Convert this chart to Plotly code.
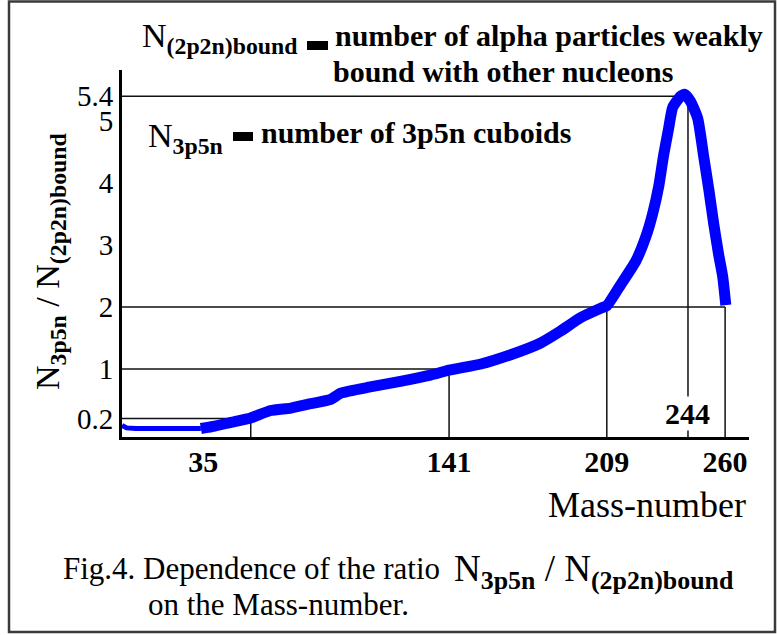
import plotly.graph_objects as go

# ---------------- data ----------------
mass_flat = [0, 2, 6, 15, 25, 34]
ratio_flat = [0.09, 0.05, 0.04, 0.04, 0.04, 0.04]

mass = [34, 40, 47, 55.5, 64, 72.8, 81.4, 90, 94.3, 107, 120, 133, 141,
        154.7, 167.6, 180.5, 189, 197.8, 206.4, 209, 215, 221.5, 225.8,
        228.8, 231.4, 233.5, 235.5, 237.4, 240.8, 242.6, 245.2, 248.2,
        250.8, 253, 255.1, 257.2, 259, 260.3]
ratio = [0.04, 0.08, 0.14, 0.21, 0.33, 0.37, 0.44, 0.51, 0.61, 0.71, 0.80,
         0.90, 0.98, 1.08, 1.23, 1.42, 1.61, 1.83, 1.98, 2.02, 2.36, 2.74,
         3.13, 3.51, 3.95, 4.45, 4.85, 5.22, 5.40, 5.43, 5.31, 5.04, 4.42,
         3.89, 3.34, 2.85, 2.48, 2.03]

# reference levels: (mass where the level meets the curve, ratio level)
ref_mass = [55.5, 141, 209, 260]
ref_ratio = [0.2, 1, 2, 2]
peak_mass = 244
peak_ratio = 5.4
peak_left = 240

y_ticks = [0.2, 1, 2, 3, 4, 5, 5.4]
y_tick_text = ["0.2", "1", "2", "3", "4", "5", "5.4"]
x_ticks = [35, 141, 209, 260]
x_tick_text = ["<b>35</b>", "<b>141</b>", "<b>209</b>", "<b>260</b>"]

X_RANGE = [0, 270.3]
Y_RANGE = [-0.097, 5.823]

# ---------------- layout geometry ----------------
W, H = 777, 635
L, R, T, B = 122, 28, 70, 198
PW, PH = W - L - R, H - T - B


def px(x):
    return (x - L) / PW


def py(y):
    return (H - B - y) / PH


SERIF = "Liberation Serif"
fig = go.Figure()

ymin = Y_RANGE[0]
line_style = dict(color="#111111", width=1.5)

# horizontal reference lines
for m, r in zip(ref_mass, ref_ratio):
    if r == 2 and m != 260:
        continue
    fig.add_trace(go.Scatter(x=[0, m], y=[r, r], mode="lines", line=line_style,
                             hoverinfo="skip", showlegend=False))
fig.add_trace(go.Scatter(x=[0, peak_left], y=[peak_ratio, peak_ratio], mode="lines",
                         line=line_style, hoverinfo="skip", showlegend=False))
# vertical reference lines
for m, r in zip(ref_mass, ref_ratio):
    fig.add_trace(go.Scatter(x=[m, m], y=[r, ymin], mode="lines", line=line_style,
                             hoverinfo="skip", showlegend=False))
fig.add_trace(go.Scatter(x=[peak_mass, peak_mass], y=[peak_ratio, ymin], mode="lines",
                         line=line_style, hoverinfo="skip", showlegend=False))

# the curve
fig.add_trace(go.Scatter(x=mass_flat, y=ratio_flat, mode="lines",
                         line=dict(color="#0000FF", width=5), showlegend=False))
fig.add_trace(go.Scatter(x=mass, y=ratio, mode="lines",
                         line=dict(color="#0000FF", width=11, shape="spline", smoothing=0.5),
                         showlegend=False))

ann = []
# 244 label
ann.append(dict(x=peak_mass, y=0.29, xref="x", yref="y", text="<b>244</b>",
                showarrow=False, bgcolor="white", borderpad=0,
                font=dict(family=SERIF, size=30, color="black")))

# top legend text
ann.append(dict(x=px(140), y=py(38), xref="paper", yref="paper", xanchor="left", yanchor="middle",
                text="N<sub><b>(2p2n)bound</b></sub>", showarrow=False,
                font=dict(family=SERIF, size=34, color="black")))
ann.append(dict(x=px(333), y=py(35), xref="paper", yref="paper", xanchor="left", yanchor="middle",
                text="<b>number of alpha particles weakly</b>", showarrow=False,
                font=dict(family=SERIF, size=30, color="black")))
ann.append(dict(x=px(331), y=py(72), xref="paper", yref="paper", xanchor="left", yanchor="middle",
                text="<b>bound with other nucleons</b>", showarrow=False,
                font=dict(family=SERIF, size=30, color="black")))
ann.append(dict(x=px(146), y=py(138), xref="paper", yref="paper", xanchor="left", yanchor="middle",
                text="N<sub><b>3p5n</b></sub>", showarrow=False,
                font=dict(family=SERIF, size=34, color="black")))
ann.append(dict(x=px(259), y=py(132), xref="paper", yref="paper", xanchor="left", yanchor="middle",
                text="<b>number of 3p5n cuboids</b>", showarrow=False,
                font=dict(family=SERIF, size=30, color="black")))

# y-axis title
ann.append(dict(x=px(50), y=py(262), xref="paper", yref="paper", xanchor="center", yanchor="middle",
                text="N<sub><b>3p5n</b></sub> / N<sub><b>(2p2n)bound</b></sub>", textangle=-90,
                showarrow=False, font=dict(family=SERIF, size=34, color="black")))
# x-axis title
ann.append(dict(x=px(748), y=py(505), xref="paper", yref="paper", xanchor="right", yanchor="middle",
                text="Mass-number", showarrow=False,
                font=dict(family=SERIF, size=36, color="black")))
# caption
ann.append(dict(x=px(61), y=py(568), xref="paper", yref="paper", xanchor="left", yanchor="middle",
                text="Fig.4. Dependence of the ratio", showarrow=False,
                font=dict(family=SERIF, size=31, color="black")))
ann.append(dict(x=px(452), y=py(571), xref="paper", yref="paper", xanchor="left", yanchor="middle",
                text="N<sub><b>3p5n</b></sub> / N<sub><b>(2p2n)bound</b></sub>", showarrow=False,
                font=dict(family=SERIF, size=37, color="black")))
ann.append(dict(x=px(146), y=py(604), xref="paper", yref="paper", xanchor="left", yanchor="middle",
                text="on the Mass-number.", showarrow=False,
                font=dict(family=SERIF, size=31, color="black")))

shapes = [
    # outer frame
    dict(type="rect", xref="paper", yref="paper", x0=px(9), x1=px(775), y0=py(632), y1=py(1.5),
         line=dict(color="#3a3a3a", width=2.5), fillcolor="rgba(0,0,0,0)", layer="below"),
    # dashes in legend text
    dict(type="rect", xref="paper", yref="paper", x0=px(307), x1=px(328), y0=py(50), y1=py(41),
         line=dict(width=0), fillcolor="black"),
    dict(type="rect", xref="paper", yref="paper", x0=px(233), x1=px(253), y0=py(141), y1=py(132),
         line=dict(width=0), fillcolor="black"),
]

fig.update_layout(
    width=W, height=H,
    margin=dict(l=L, r=R, t=T, b=B, pad=0),
    paper_bgcolor="white", plot_bgcolor="white",
    annotations=ann, shapes=shapes, showlegend=False,
    xaxis=dict(range=X_RANGE, showgrid=False, zeroline=False, showline=True,
               linecolor="black", linewidth=3, ticks="", tickvals=x_ticks,
               ticktext=x_tick_text, ticklabelstandoff=-4,
               tickfont=dict(family=SERIF, size=30, color="black")),
    yaxis=dict(range=Y_RANGE, showgrid=False, zeroline=False, showline=True,
               linecolor="black", linewidth=3, ticks="", tickvals=y_ticks,
               ticktext=y_tick_text, ticklabelstandoff=0,
               tickfont=dict(family=SERIF, size=29, color="black")),
)

fig.write_html("out.html", config={"displayModeBar": False},
               post_script="document.body.style.margin='0';")
